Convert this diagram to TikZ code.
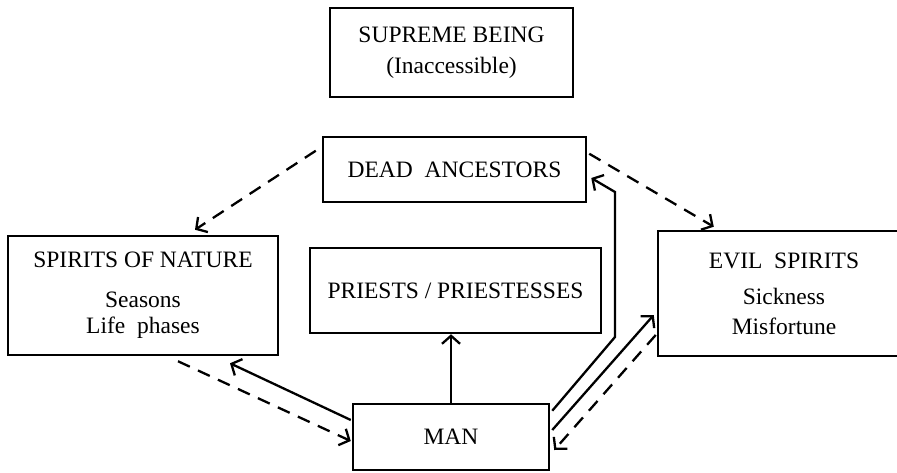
\documentclass[tikz,border=0pt]{standalone}
\usepackage{fontspec}
\setmainfont{Liberation Serif}
\usetikzlibrary{arrows.meta,calc}
\begin{document}
\begin{tikzpicture}[x=1pt,y=-1pt,
  box/.style={draw,line width=2.5pt,rectangle,inner sep=0pt,align=center,font=\fontsize{23.5}{30}\selectfont},
  conn/.style={line width=2.3pt,-{Straight Barb[length=8pt,width=18pt]}},
  dconn/.style={conn,dash pattern=on 13pt off 9pt}]
\clip (0,0) rectangle (897,473);
\fill[white] (0,0) rectangle (897,473);
\node[box,minimum width=243pt,minimum height=89pt] (sb) at (451.5,52.5) {SUPREME BEING\\[1pt](Inaccessible)};
\node[box,minimum width=263pt,minimum height=65pt] (da) at (454.5,169.5) {DEAD\ \ ANCESTORS};
\node[box,minimum width=291pt,minimum height=85pt] (pr) at (455.5,290.5) {PRIESTS / PRIESTESSES};
\node[box,minimum width=270pt,minimum height=119pt] (sn) at (143,295.5) {SPIRITS OF NATURE\\[10pt]Seasons\\[-4pt]Life\ \ phases};
\node[box,minimum width=252pt,minimum height=125pt] (es) at (784,293.5) {EVIL\ \ SPIRITS\\[6pt]Sickness\\Misfortune};
\node[box,minimum width=196pt,minimum height=66pt] (man) at (451,437) {MAN};
% dashed influences
\draw[dconn] ($(da.north west)+(-6,15)$) -- ($(sn.north)+(52,-5)$);
\draw[dconn] ($(da.north east)+(2,18)$) -- ($(es.north west)+(57,-3)$);
\draw[dconn] ($(sn.south)+(35,5)$) -- ($(man.west)+(-1,4)$);
\draw[dconn] ($(es.west)+(-1,41.5)$) -- ($(man.east)+(4,13)$);
% solid actions of man
\draw[conn] ($(man.west)+(-1,-17)$) -- ($(sn.south)+(87,7)$);
\draw[conn] (man.north) -- (man.north |- pr.south);
\draw[conn] ($(man.north east)+(2,8)$) -- (615,337) -- (615,192) -- ($(da.east)+(4,8.5)$);
\draw[conn] ($(man.east)+(2,-7)$) -- ($(es.west)+(-3,21.5)$);
\end{tikzpicture}
\end{document}
